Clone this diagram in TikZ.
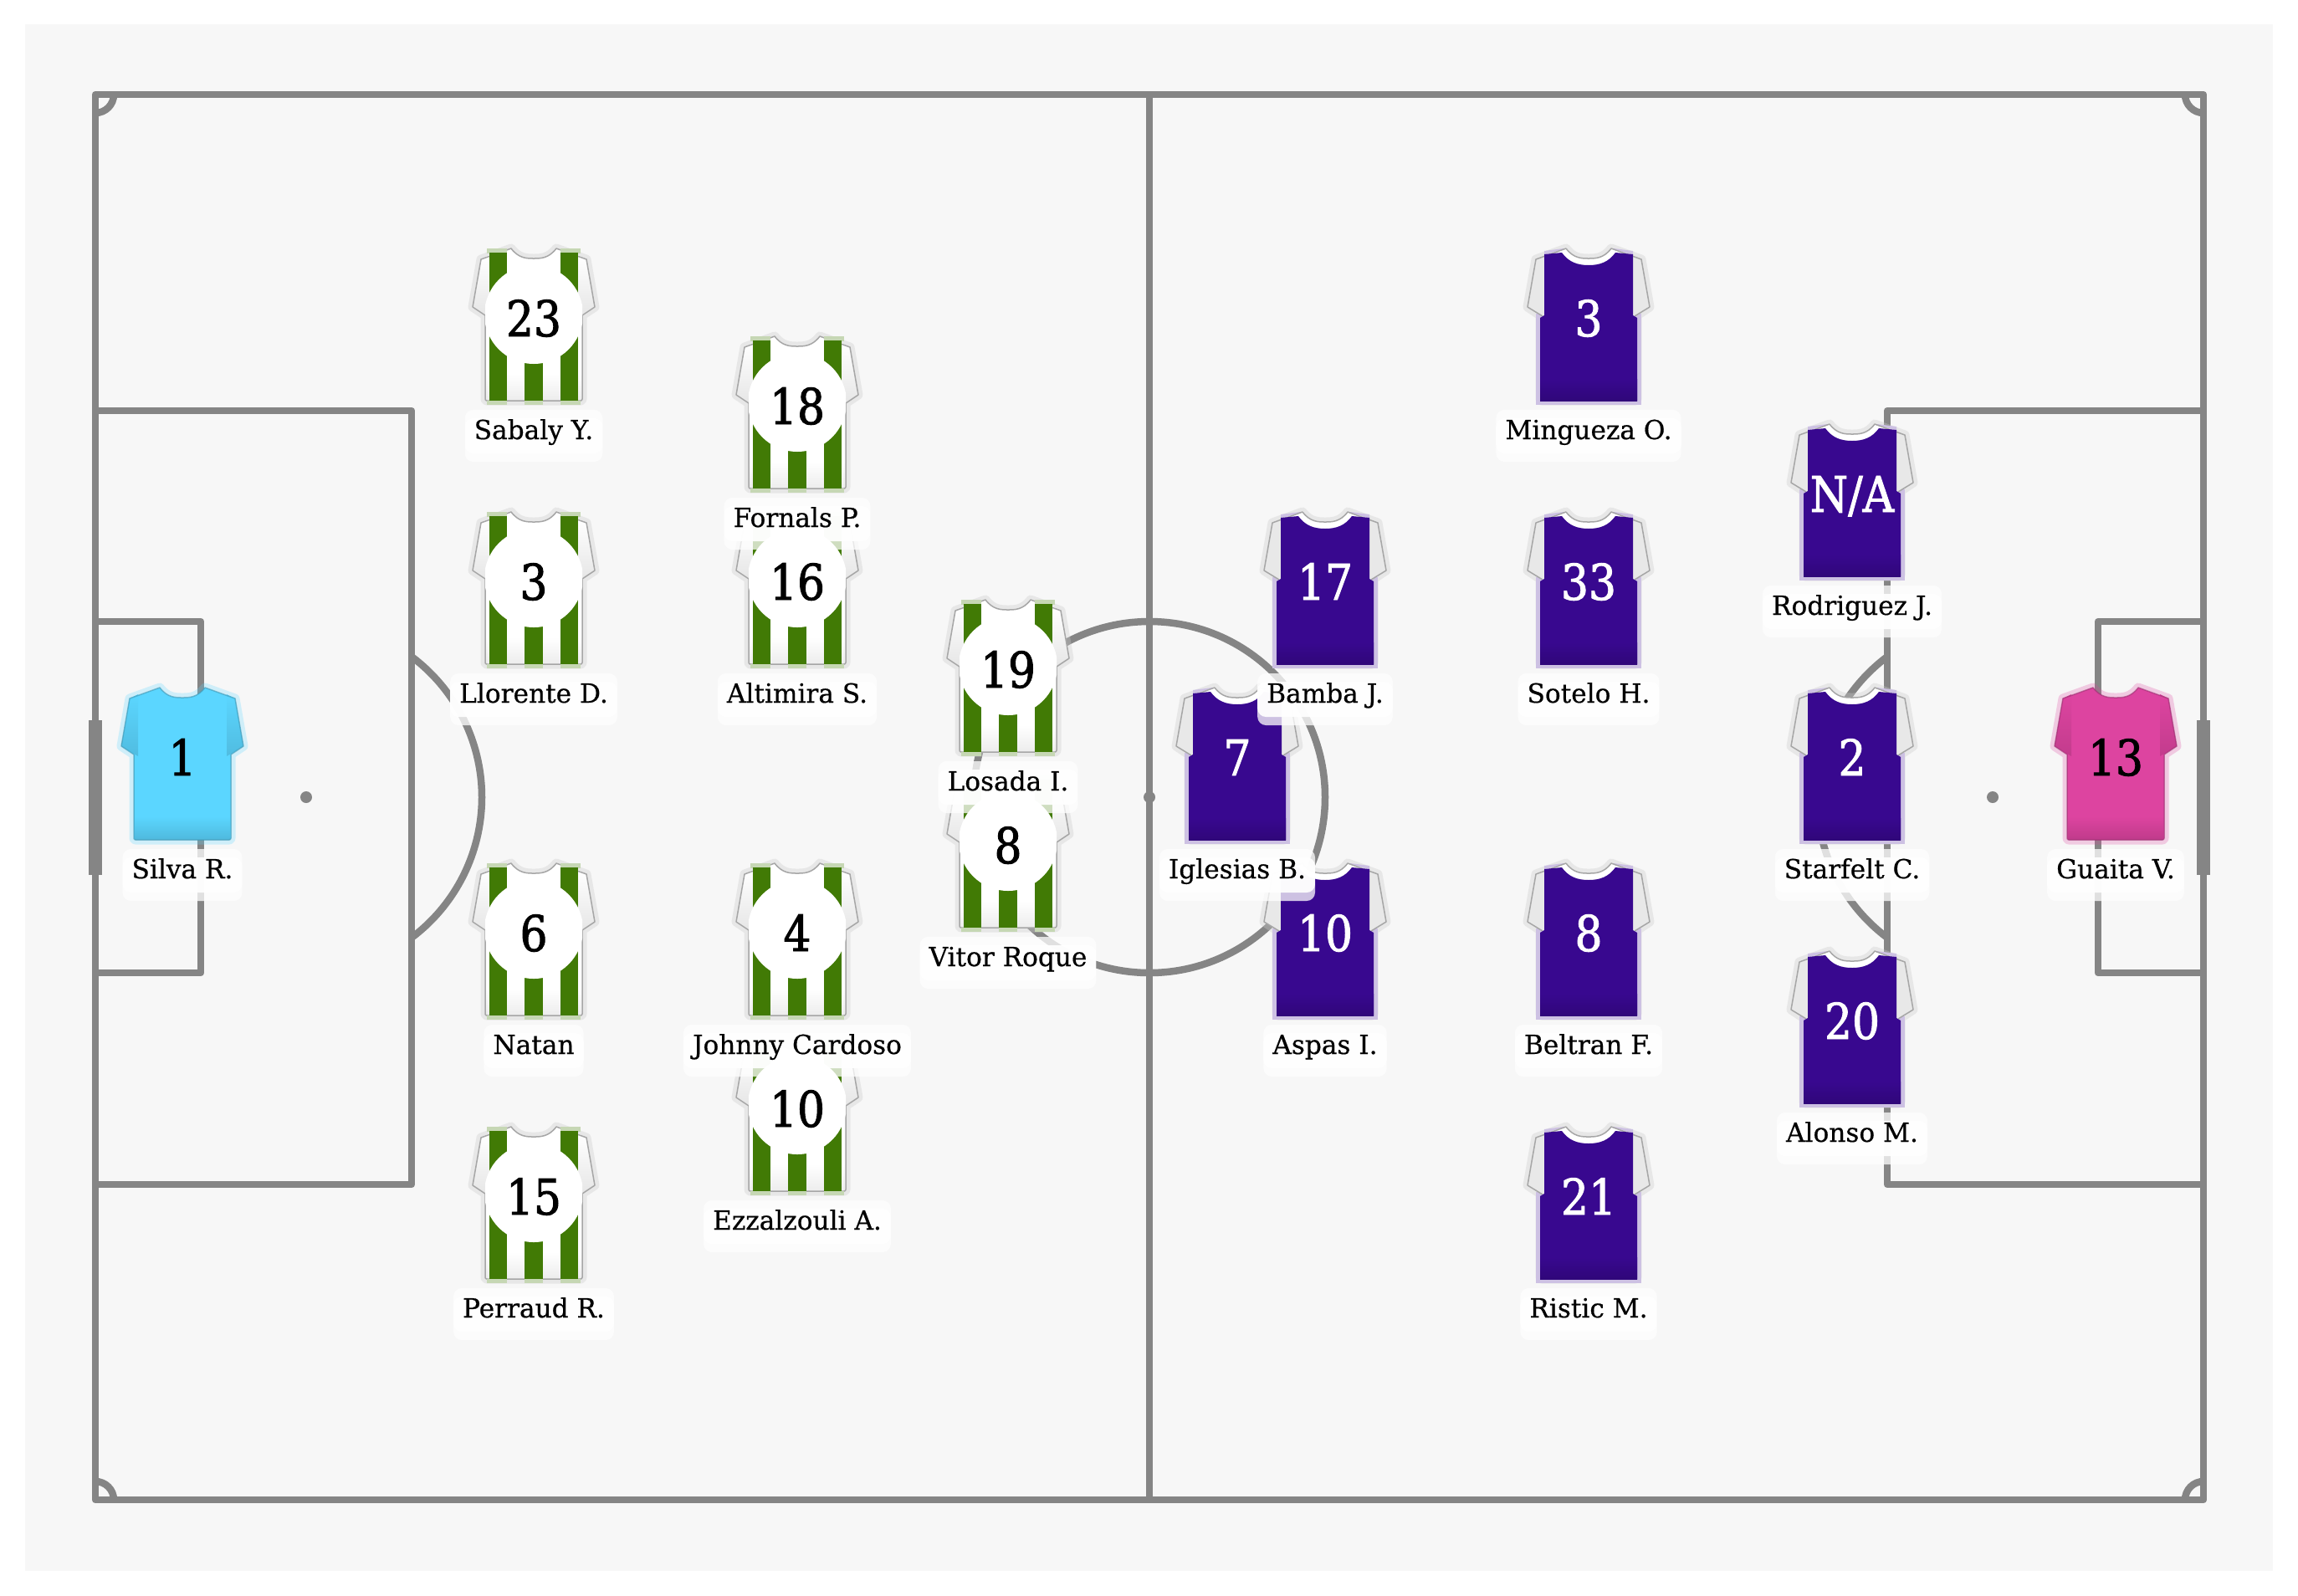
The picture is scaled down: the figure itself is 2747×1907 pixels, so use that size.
\documentclass[tikz,border=0pt]{standalone}
\usepackage{fontspec}
\setmainfont[FakeStretch=.99,FakeBold=.5]{DejaVu Serif}
\newfontfamily\numfont[FakeStretch=.88,FakeBold=1.6]{DejaVu Serif}
\definecolor{pitchbg}{HTML}{F7F7F7}
\definecolor{pitchline}{HTML}{858585}
\definecolor{kitgreen}{HTML}{417A05}
\definecolor{kitpurple}{HTML}{38088F}
\definecolor{kitsky}{HTML}{5BD6FF}
\definecolor{kitpink}{HTML}{DD44A0}
\definecolor{sleevegrey}{HTML}{E8E8E8}
\tikzset{
  pitch/.style={draw=pitchline,line width=8.5,line join=round,fill=none},
  goalbar/.style={fill=pitchline,draw=none},
  spot/.style={fill=pitchline,draw=none},
  namebox/.style={anchor=base,fill=white,fill opacity=.75,text opacity=1,rounded corners=10,
    inner xsep=11,inner ysep=9,text height=26,text depth=18,font=\fontsize{31.5}{36}\selectfont,
    path picture={\fill[white,fill opacity=.93] ([yshift=-10pt]path picture bounding box.north west) rectangle ([yshift=10pt]path picture bounding box.south east);}},
  numdark/.style={anchor=base,inner sep=0,text=black,font=\numfont\fontsize{59}{64}\selectfont},
  numlight/.style={anchor=base,inner sep=0,text=white,font=\numfont\fontsize{59}{64}\selectfont},
}
% silhouette and its parts, relative to the number centre
\def\silhouette{(-27,-84) .. controls (-18,-72) and (-8,-72) .. (0,-72) .. controls (8,-72) and (18,-72) .. (27,-84) -- (63,-71) -- (73,-14) -- (58,-4) -- (58,96) [rounded corners=2] -- (58,98) -- (-58,98) [sharp corners] -- (-58,-4) -- (-73,-14) -- (-63,-71) -- cycle}
\def\sleeveL{(-53,-76) -- (-63,-71) -- (-73,-14) -- (-53,-2) -- cycle}
\def\sleeveR{(53,-76) -- (63,-71) -- (73,-14) -- (53,-2) -- cycle}
\def\torso{(-53,-77) -- (-32,-79) .. controls (-24,-68) and (-14,-64) .. (0,-64) .. controls (14,-64) and (24,-68) .. (32,-79) -- (53,-77) -- (53,-4) -- (58,-1) -- (58,98) -- (-58,98) -- (-58,-1) -- (-53,-4) -- cycle}
% plain keeper shirt: #1 x, #2 y, #3 colour
\newcommand\plainshirt[3]{\begin{scope}[shift={(#1,#2)}]
  \draw[#3,opacity=.25,line width=11,line join=round] \silhouette;
  \fill[#3] \silhouette;
  \shade[top color=#3,bottom color=#3!88!black] \sleeveL;
  \shade[top color=#3,bottom color=#3!88!black] \sleeveR;
  \shade[top color=#3,bottom color=#3!87!black] (-57,70) rectangle (57,97);
  \draw[#3!70!black,opacity=.6,line width=1.5,line join=round] \silhouette;
\end{scope}}
% purple outfield shirt
\newcommand\purpleshirt[2]{\begin{scope}[shift={(#1,#2)}]
  \draw[black!20,opacity=.35,line width=11,line join=round] \silhouette;
  \fill[kitpurple!25!white] (-63,-6) rectangle (63,103);
  \fill[kitpurple!25!white] (-53,-81) -- (-30,-84) -- (-30,-76) -- (-53,-72) -- cycle;
  \fill[kitpurple!25!white] (53,-81) -- (30,-84) -- (30,-76) -- (53,-72) -- cycle;
  \fill[white] (-27,-84) .. controls (-18,-72) and (-8,-72) .. (0,-72) .. controls (8,-72) and (18,-72) .. (27,-84) -- (53,-76) -- (53,-50) -- (-53,-50) -- (-53,-76) -- cycle;
  \fill[sleevegrey] \sleeveL;
  \fill[sleevegrey] \sleeveR;
  \draw[black!35,line width=1.5,line join=round] (-27,-84) .. controls (-18,-72) and (-8,-72) .. (0,-72) .. controls (8,-72) and (18,-72) .. (27,-84) -- (63,-71) -- (73,-14) -- (55,-3);
  \draw[black!35,line width=1.5,line join=round] (-27,-84) -- (-63,-71) -- (-73,-14) -- (-55,-3);
  \fill[kitpurple] \torso;
  \shade[top color=kitpurple,bottom color=kitpurple!85!black] (-58,72) rectangle (58,98);
\end{scope}}
% green and white striped shirt
\newcommand\stripedshirt[2]{\begin{scope}[shift={(#1,#2)}]
  \draw[black!20,opacity=.35,line width=11,line join=round] \silhouette;
  \fill[white] \silhouette;
  \shade[top color=white,bottom color=black!10] \sleeveL;
  \shade[top color=white,bottom color=black!10] \sleeveR;
  \shade[top color=white,bottom color=black!7] (-57,66) rectangle (57,97);
  \draw[black!35,line width=1.5,line join=round] \silhouette;
  \fill[kitgreen!30!white] (-56,-84) rectangle (-32,-78);
  \fill[kitgreen!30!white] (32,-84) rectangle (56,-78);
  \fill[kitgreen!30!white] (-56,98) rectangle (-32,103);
  \fill[kitgreen!30!white] (-11,98) rectangle (11,103);
  \fill[kitgreen!30!white] (32,98) rectangle (56,103);
  \fill[kitgreen] (-53,-79) rectangle (-32,98);
  \fill[kitgreen] (-11,30) rectangle (11,98);
  \fill[kitgreen] (32,-79) rectangle (53,98);
  \begin{scope}
    \clip (-58,-80) rectangle (58,98);
    \fill[white] (0,-5) circle[radius=59];
  \end{scope}
\end{scope}}
\begin{document}
\begin{tikzpicture}[x=1pt,y=-1pt]
\useasboundingbox (0,0) rectangle (2747,1907);
\fill[white] (0,0) rectangle (2747,1907);
\fill[pitchbg] (30,29) rectangle (2717,1878);
% pitch
\draw[pitch] (114,113) rectangle (2634,1793);
\draw[pitch] (1374,113) -- (1374,1793);
\draw[pitch] (1374,953) circle[radius=210];
\draw[pitch] (114,491) rectangle (492,1416);
\draw[pitch] (2634,491) rectangle (2256,1416);
\draw[pitch] (114,743) rectangle (240,1163);
\draw[pitch] (2634,743) rectangle (2508,1163);
\draw[pitch] (492,785) arc[start angle=-53.13,end angle=53.13,radius=210];
\draw[pitch] (2256,1121) arc[start angle=126.87,end angle=233.13,radius=210];
\draw[pitch] (136,113) arc[start angle=0,end angle=90,radius=22];
\draw[pitch] (2612,113) arc[start angle=180,end angle=90,radius=22];
\draw[pitch] (136,1793) arc[start angle=0,end angle=-90,radius=22];
\draw[pitch] (2612,1793) arc[start angle=180,end angle=270,radius=22];
\fill[goalbar] (106,861) rectangle (122,1046);
\fill[goalbar] (2626,861) rectangle (2642,1046);
\fill[spot] (366,953) circle[radius=7];
\fill[spot] (1374,953) circle[radius=7];
\fill[spot] (2382,953) circle[radius=7];
% shirts
\plainshirt{218}{906}{kitsky}
\stripedshirt{638}{381}
\stripedshirt{638}{696}
\stripedshirt{638}{1116}
\stripedshirt{638}{1431}
\stripedshirt{953}{486}
\stripedshirt{953}{696}
\stripedshirt{953}{1116}
\stripedshirt{953}{1326}
\stripedshirt{1205}{801}
\stripedshirt{1205}{1011}
\purpleshirt{1479}{906}
\purpleshirt{1584}{696}
\purpleshirt{1584}{1116}
\purpleshirt{1899}{381}
\purpleshirt{1899}{696}
\purpleshirt{1899}{1116}
\purpleshirt{1899}{1431}
\purpleshirt{2214}{591}
\purpleshirt{2214}{906}
\purpleshirt{2214}{1221}
\plainshirt{2529}{906}{kitpink}
% numbers
\node[numdark] (n1) at (218,927) {1};
\node[numdark] (n23) at (638,402) {23};
\node[numdark] (n3l) at (638,717) {3};
\node[numdark] (n6) at (638,1137) {6};
\node[numdark] (n15) at (638,1452) {15};
\node[numdark] (n18) at (953,507) {18};
\node[numdark] (n16) at (953,717) {16};
\node[numdark] (n4) at (953,1137) {4};
\node[numdark] (n10l) at (953,1347) {10};
\node[numdark] (n19) at (1205,822) {19};
\node[numdark] (n8l) at (1205,1032) {8};
\node[numlight] (n7) at (1479,927) {7};
\node[numlight] (n17) at (1584,717) {17};
\node[numlight] (n10r) at (1584,1137) {10};
\node[numlight] (n3r) at (1899,402) {3};
\node[numlight] (n33) at (1899,717) {33};
\node[numlight] (n8r) at (1899,1137) {8};
\node[numlight] (n21) at (1899,1452) {21};
\node[numlight] (nna) at (2214,612) {N/A};
\node[numlight] (n2) at (2214,927) {2};
\node[numlight] (n20) at (2214,1242) {20};
\node[numdark] (n13) at (2529,927) {13};
% names
\node[namebox] (silva) at (218,1050) {Silva R.};
\node[namebox] (sabaly) at (638,525) {Sabaly Y.};
\node[namebox] (llorente) at (638,840) {Llorente D.};
\node[namebox] (natan) at (638,1260) {Natan};
\node[namebox] (perraud) at (638,1575) {Perraud R.};
\node[namebox] (fornals) at (953,630) {Fornals P.};
\node[namebox] (altimira) at (953,840) {Altimira S.};
\node[namebox] (cardoso) at (953,1260) {Johnny Cardoso};
\node[namebox] (ezzalzouli) at (953,1470) {Ezzalzouli A.};
\node[namebox] (losada) at (1205,945) {Losada I.};
\node[namebox] (vitor) at (1205,1155) {Vitor Roque};
\node[namebox] (iglesias) at (1479,1050) {Iglesias B.};
\node[namebox] (bamba) at (1584,840) {Bamba J.};
\node[namebox] (aspas) at (1584,1260) {Aspas I.};
\node[namebox] (mingueza) at (1899,525) {Mingueza O.};
\node[namebox] (sotelo) at (1899,840) {Sotelo H.};
\node[namebox] (beltran) at (1899,1260) {Beltran F.};
\node[namebox] (ristic) at (1899,1575) {Ristic M.};
\node[namebox] (rodriguez) at (2214,735) {Rodriguez J.};
\node[namebox] (starfelt) at (2214,1050) {Starfelt C.};
\node[namebox] (alonso) at (2214,1365) {Alonso M.};
\node[namebox] (guaita) at (2529,1050) {Guaita V.};
\end{tikzpicture}
\end{document}
